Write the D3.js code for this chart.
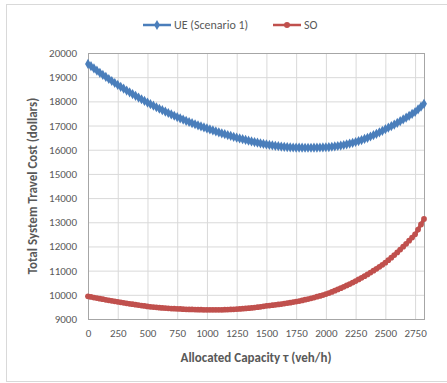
<!DOCTYPE html>
<html>
<head>
<meta charset="utf-8">
<script src="https://cdn.jsdelivr.net/npm/d3@7"></script>
<style>
  body { margin: 0; background: #fff; }
  svg text { font-family: Calibri, Carlito, "Open Sans", "Liberation Sans", sans-serif; fill: #595959; }
</style>
</head>
<body>
<div id="vis1"></div>
<script>
// frame dimensions
const FRAME_WIDTH = 447;
const FRAME_HEIGHT = 383;
const MARGINS = {left: 88, right: 23, top: 53, bottom: 64};

// data: allocated capacity every 25 veh/h
const step = 25;
const ueCost = [
  19550, 19455, 19362, 19271, 19182, 19095, 19009, 18925, 18842, 18760,
  18680, 18601, 18524, 18448, 18374, 18301, 18229, 18158, 18088, 18019,
  17950, 17884, 17820, 17757, 17695, 17635, 17576, 17518, 17461, 17405,
  17350, 17297, 17246, 17196, 17147, 17100, 17054, 17009, 16965, 16922,
  16880, 16838, 16797, 16757, 16718, 16680, 16642, 16605, 16569, 16534,
  16500, 16467, 16435, 16404, 16374, 16345, 16317, 16290, 16265, 16242,
  16220, 16199, 16180, 16162, 16146, 16132, 16119, 16108, 16099, 16093,
  16090, 16087, 16084, 16082, 16081, 16081, 16083, 16087, 16092, 16097,
  16103, 16111, 16122, 16136, 16153, 16173, 16196, 16223, 16253, 16285,
  16320, 16358, 16400, 16445, 16494, 16546, 16601, 16659, 16719, 16783,
  16850, 16912, 16976, 17042, 17110, 17180, 17252, 17326, 17402, 17480,
  17560, 17668, 17780, 17900
];
const soCost = [
  9940, 9914, 9889, 9864, 9840, 9817, 9794, 9772, 9751, 9730,
  9710, 9689, 9669, 9649, 9630, 9611, 9592, 9574, 9556, 9538,
  9520, 9506, 9493, 9481, 9470, 9460, 9450, 9441, 9433, 9426,
  9420, 9414, 9408, 9403, 9398, 9394, 9390, 9387, 9384, 9382,
  9380, 9379, 9378, 9378, 9379, 9381, 9384, 9388, 9393, 9400,
  9410, 9418, 9427, 9437, 9448, 9460, 9474, 9489, 9506, 9524,
  9545, 9558, 9572, 9587, 9603, 9620, 9638, 9657, 9677, 9698,
  9720, 9744, 9770, 9797, 9826, 9856, 9888, 9921, 9956, 9992,
  10030, 10074, 10121, 10170, 10221, 10274, 10329, 10386, 10445, 10506,
  10570, 10634, 10701, 10771, 10844, 10919, 10996, 11075, 11157, 11242,
  11330, 11430, 11534, 11642, 11754, 11870, 11989, 12111, 12237, 12366,
  12500, 12700, 12910, 13140
];
const capacity = ueCost.map((d, i) => i * step);
const xTicks = [0, 250, 500, 750, 1000, 1250, 1500, 1750, 2000, 2250, 2500, 2750];
const yTicks = [9000, 10000, 11000, 12000, 13000, 14000, 15000, 16000, 17000, 18000, 19000, 20000];

const seriesNames = ["UE (Scenario 1)", "SO"];
const seriesColors = ["#4A7EBB", "#C0504D"];

const VIS_WIDTH = FRAME_WIDTH - MARGINS.left - MARGINS.right;
const VIS_HEIGHT = FRAME_HEIGHT - MARGINS.top - MARGINS.bottom;

const FRAME1 = d3.select("#vis1")
  .append("svg")
    .attr("width", FRAME_WIDTH)
    .attr("height", FRAME_HEIGHT);

// outer chart border
FRAME1.append("rect")
  .attr("x", 6.5).attr("y", 4.5)
  .attr("width", FRAME_WIDTH).attr("height", 377)
  .attr("fill", "none").attr("stroke", "#d9d9d9");

const X_SCALE = d3.scaleLinear()
  .domain([0, capacity[capacity.length - 1]])
  .range([0, VIS_WIDTH]);

const Y_SCALE = d3.scaleLinear()
  .domain([9000, 20000])
  .range([VIS_HEIGHT, 0]);

const plot = FRAME1.append("g")
  .attr("transform", "translate(" + MARGINS.left + "," + MARGINS.top + ")");

// gridlines
plot.append("g")
  .call(d3.axisLeft(Y_SCALE).tickValues(yTicks).tickSize(-VIS_WIDTH).tickFormat(""))
  .call(g => g.select(".domain").remove())
  .selectAll("line").attr("stroke", "#d9d9d9");

plot.append("g")
  .attr("transform", "translate(0," + VIS_HEIGHT + ")")
  .call(d3.axisBottom(X_SCALE).tickValues(xTicks).tickSize(-VIS_HEIGHT).tickFormat(""))
  .call(g => g.select(".domain").remove())
  .selectAll("line").attr("stroke", "#d9d9d9");

// plot border
plot.append("rect")
  .attr("x", 0.5).attr("y", 0.5)
  .attr("width", VIS_WIDTH).attr("height", VIS_HEIGHT)
  .attr("fill", "none").attr("stroke", "#a6a6a6");

// tick labels
plot.append("g")
  .call(d3.axisLeft(Y_SCALE).tickValues(yTicks).tickSize(0).tickPadding(11).tickFormat(d3.format("d")))
  .call(g => g.select(".domain").remove())
  .selectAll("text").attr("font-size", "11px");

plot.append("g")
  .attr("transform", "translate(0," + VIS_HEIGHT + ")")
  .call(d3.axisBottom(X_SCALE).tickValues(xTicks).tickSize(0).tickPadding(10).tickFormat(d3.format("d")))
  .call(g => g.select(".domain").remove())
  .selectAll("text").attr("font-size", "11px");

// series
const allSeries = [ueCost, soCost];
const line = d3.line()
  .x((d, i) => X_SCALE(capacity[i]))
  .y(d => Y_SCALE(d));

allSeries.forEach((vals, k) => {
  plot.append("path")
    .datum(vals)
    .attr("d", line)
    .attr("fill", "none")
    .attr("stroke", seriesColors[k])
    .attr("stroke-width", 3.5);
  const sym = d3.symbol().type(k === 0 ? d3.symbolDiamond : d3.symbolCircle).size(k === 0 ? 30 : 26);
  plot.selectAll(".pt" + k)
    .data(vals)
    .enter()
    .append("path")
      .attr("class", "pt" + k)
      .attr("d", sym)
      .attr("transform", (d, i) => "translate(" + X_SCALE(capacity[i]) + "," + Y_SCALE(d) + ")")
      .attr("fill", seriesColors[k]);
});

// axis titles
FRAME1.append("text")
  .attr("x", MARGINS.left + VIS_WIDTH / 2)
  .attr("y", 362)
  .attr("text-anchor", "middle")
  .attr("font-size", "13px")
  .attr("font-weight", "bold")
  .text("Allocated Capacity τ (veh/h)");

FRAME1.append("text")
  .attr("transform", "translate(37," + (MARGINS.top + VIS_HEIGHT / 2) + ") rotate(-90)")
  .attr("text-anchor", "middle")
  .attr("font-size", "13px")
  .attr("font-weight", "bold")
  .text("Total System Travel Cost (dollars)");

// legend
const legendX = [143, 273];
seriesNames.forEach((name, k) => {
  const lg = FRAME1.append("g").attr("transform", "translate(" + legendX[k] + ",25)");
  lg.append("line")
    .attr("x1", 0).attr("x2", 28).attr("y1", 0).attr("y2", 0)
    .attr("stroke", seriesColors[k]).attr("stroke-width", 2.5);
  lg.append("path")
    .attr("d", d3.symbol().type(k === 0 ? d3.symbolDiamond : d3.symbolCircle).size(k === 0 ? 30 : 28))
    .attr("transform", "translate(14,0)")
    .attr("fill", seriesColors[k]);
  lg.append("text")
    .attr("x", 31).attr("y", 4)
    .attr("font-size", "12px")
    .text(name);
});
</script>
</body>
</html>
